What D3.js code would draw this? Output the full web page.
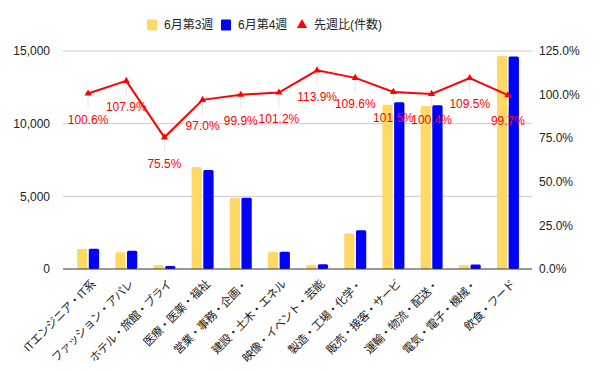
<!DOCTYPE html>
<html>
<head>
<meta charset="utf-8">
<script src="https://cdn.jsdelivr.net/npm/d3@7"></script>
<style>
  body { margin: 0; background: #fff; }
  svg text { font-family: "Liberation Sans", Arial, "Noto Sans CJK JP", sans-serif; }
</style>
</head>
<body>
<svg id="chart" width="600" height="371"></svg>
<script>
// data
var categories = ["ITエンジニア・IT系", "ファッション・アパレ", "ホテル・旅館・ブライ", "医療・医薬・福祉",
    "営業・事務・企画・", "建設・土木・エネル", "映像・イベント・芸能", "製造・工場・化学・",
    "販売・接客・サービ", "運輸・物流・配送・", "電気・電子・機械・", "飲食・フード"];
var week3 = [1380, 1160, 280, 7020, 4900, 1170, 290, 2440, 11300, 11220, 280, 14660];
var week4 = [1388, 1252, 211, 6810, 4895, 1184, 330, 2674, 11470, 11265, 307, 14620];
var ratio = [100.6, 107.9, 75.5, 97.0, 99.9, 101.2, 113.9, 109.6, 101.5, 100.4, 109.5, 99.7];
var leftTicks = [0, 5000, 10000, 15000];
var rightTicks = [0, 25, 50, 75, 100, 125];
var seriesNames = ["6月第3週", "6月第4週", "先週比(件数)"];
var colors = ["#ffd966", "#0000ff", "#ff0000"];

var svg = d3.select("#chart");
var plot = { left: 63, right: 532, top: 51, bottom: 269 };

var x = d3.scaleBand().domain(categories).range([69, 527]);
var xInner = d3.scaleBand().domain([0, 1]).range([x.bandwidth() / 2 - 11, x.bandwidth() / 2 + 11]).paddingInner(0.12);
var y = d3.scaleLinear().domain([0, 15000]).range([plot.bottom, plot.top]);
var y2 = d3.scaleLinear().domain([0, 125]).range([plot.bottom, plot.top]);

// gridlines
svg.append("g")
    .selectAll("line")
    .data(leftTicks.filter(d => d > 0))
    .join("line")
    .attr("x1", plot.left).attr("x2", plot.right)
    .attr("y1", d => y(d)).attr("y2", d => y(d))
    .attr("stroke", "#cccccc").attr("stroke-width", 1);

// left axis labels
svg.append("g")
    .selectAll("text")
    .data(leftTicks)
    .join("text")
    .attr("x", 50).attr("y", d => y(d))
    .attr("dy", "0.35em")
    .attr("text-anchor", "end")
    .attr("font-size", 12).attr("fill", "#222")
    .text(d => d3.format(",")(d));

// right axis labels
svg.append("g")
    .selectAll("text")
    .data(rightTicks)
    .join("text")
    .attr("x", 539).attr("y", d => y2(d))
    .attr("dy", "0.35em")
    .attr("text-anchor", "start")
    .attr("font-size", 12).attr("fill", "#222")
    .text(d => d.toFixed(1) + "%");

// bars
var groups = svg.append("g")
    .selectAll("g")
    .data(categories)
    .join("g")
    .attr("transform", d => `translate(${x(d)},0)`);
[week3, week4].forEach(function (vals, s) {
    groups.append("rect")
        .attr("x", xInner(s))
        .attr("width", xInner.bandwidth())
        .attr("y", (d, i) => y(vals[i]))
        .attr("height", (d, i) => y(0) - y(vals[i]))
        .attr("rx", 1.5)
        .attr("fill", colors[s]);
});

// baseline
svg.append("line")
    .attr("x1", plot.left).attr("x2", plot.right)
    .attr("y1", y(0)).attr("y2", y(0))
    .attr("stroke", "#333").attr("stroke-width", 1);

// ratio line
var cx = (d, i) => x(categories[i]) + x.bandwidth() / 2;
svg.append("g")
    .selectAll("line")
    .data(ratio)
    .join("line")
    .attr("x1", cx).attr("x2", cx)
    .attr("y1", d => y2(d)).attr("y2", d => y2(d) + 14)
    .attr("stroke", "#e6e6e6").attr("stroke-width", 1);

svg.append("path")
    .datum(ratio)
    .attr("fill", "none")
    .attr("stroke", colors[2])
    .attr("stroke-width", 2)
    .attr("d", d3.line().x(cx).y(d => y2(d)));

svg.append("g")
    .selectAll("path")
    .data(ratio)
    .join("path")
    .attr("transform", (d, i) => `translate(${cx(d, i)},${y2(d)})`)
    .attr("d", d3.symbol(d3.symbolTriangle, 22))
    .attr("fill", colors[2]);

svg.append("g")
    .selectAll("text")
    .data(ratio)
    .join("text")
    .attr("x", cx)
    .attr("y", d => y2(d) + 26)
    .attr("dy", "0.35em")
    .attr("text-anchor", "middle")
    .attr("font-size", 12)
    .attr("fill", colors[2])
    .text(d => d.toFixed(1) + "%");

// x labels, rotated
svg.append("g")
    .selectAll("text")
    .data(categories)
    .join("text")
    .attr("transform", d => `translate(${x(d) + x.bandwidth() / 2 + 5},${plot.bottom + 13}) rotate(-45)`)
    .attr("text-anchor", "end")
    .attr("dy", "0.35em")
    .attr("font-size", 11.5)
    .attr("letter-spacing", -0.5)
    .attr("fill", "#222")
    .text(d => d);

// legend
var legendX = [147, 221, 297];
var legend = svg.append("g")
    .selectAll("g")
    .data(seriesNames)
    .join("g")
    .attr("transform", (d, i) => `translate(${legendX[i]},25)`);
legend.each(function (d, i) {
    var g = d3.select(this);
    if (i < 2) {
        g.append("rect").attr("x", 0).attr("y", -5.5).attr("width", 10).attr("height", 11)
            .attr("rx", 1).attr("fill", colors[i]);
    } else {
        g.append("path").attr("transform", "translate(5,0)")
            .attr("d", d3.symbol(d3.symbolTriangle, 45)).attr("fill", colors[i]);
    }
    g.append("text").attr("x", 17).attr("dy", "0.35em")
        .attr("font-size", 12).attr("fill", "#222").text(d);
});
</script>
</body>
</html>
